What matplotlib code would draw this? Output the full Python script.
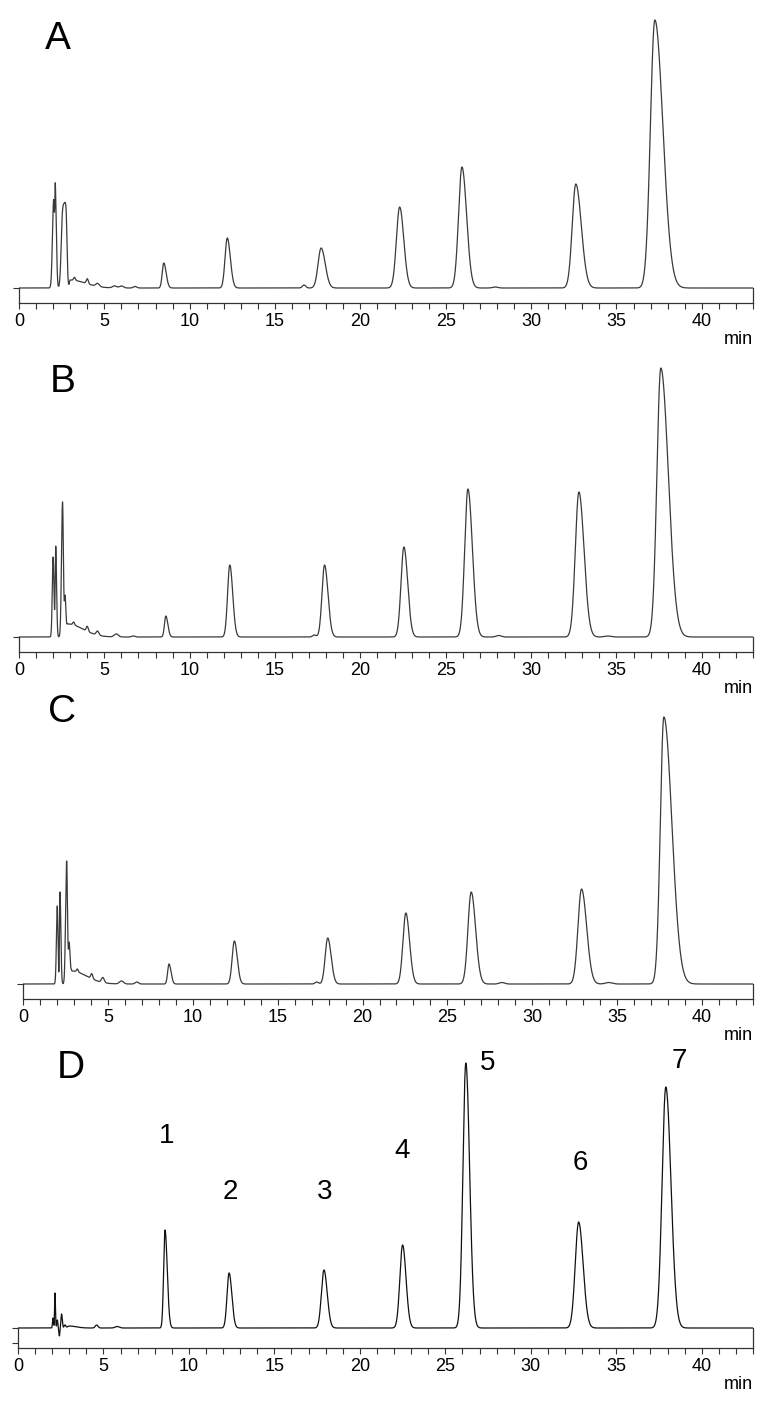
import numpy as np
import matplotlib.pyplot as plt
from matplotlib.ticker import MultipleLocator

plt.rcParams["font.family"] = ["Liberation Sans", "DejaVu Sans"]

# peak tables: retention time (min), height, left / right width (min)
a_time = [2.03, 2.13, 2.55, 2.75, 3.0, 3.25, 4.0, 4.6, 5.6, 6.0, 6.8, 8.48, 12.2, 16.7, 17.7, 22.3, 25.95, 27.9, 32.62, 37.25]
a_height = [88, 92, 68, 72, 8, 3, 5, 3, 2, 2, 1.5, 25, 50, 3, 40, 81, 121, 1, 104, 268]
a_left = [0.07, 0.03, 0.08, 0.1, 0.05, 0.05, 0.06, 0.1, 0.12, 0.12, 0.1, 0.09, 0.13, 0.1, 0.18, 0.19, 0.2, 0.15, 0.21, 0.26]
a_right = [0.05, 0.06, 0.1, 0.06, 0.9, 0.05, 0.06, 0.1, 0.12, 0.12, 0.1, 0.14, 0.18, 0.1, 0.24, 0.24, 0.27, 0.15, 0.32, 0.47]

b_time = [2.0, 2.15, 2.55, 2.7, 2.85, 3.2, 4.0, 4.6, 5.7, 6.7, 8.6, 12.35, 17.3, 17.9, 22.55, 26.3, 28.1, 32.8, 34.5, 37.6]
b_height = [80, 90, 135, 40, 13, 3, 5, 4, 3, 1, 21, 72, 2, 72, 90, 148, 1.5, 145, 1, 269]
b_left = [0.05, 0.03, 0.06, 0.04, 0.05, 0.05, 0.06, 0.08, 0.12, 0.1, 0.08, 0.13, 0.1, 0.15, 0.17, 0.19, 0.15, 0.21, 0.2, 0.23]
b_right = [0.05, 0.05, 0.05, 0.05, 0.9, 0.05, 0.06, 0.08, 0.12, 0.1, 0.12, 0.17, 0.1, 0.2, 0.22, 0.26, 0.15, 0.3, 0.2, 0.44]

c_time = [2.02, 2.18, 2.57, 2.72, 2.85, 3.2, 4.05, 4.7, 5.8, 6.7, 8.6, 12.45, 17.3, 17.95, 22.55, 26.4, 28.2, 32.9, 34.5, 37.75]
c_height = [78, 92, 123, 40, 13, 3, 5, 5, 3, 2, 20, 43, 2, 46, 71, 92, 1.5, 95, 1.5, 267]
c_left = [0.05, 0.03, 0.06, 0.04, 0.05, 0.05, 0.06, 0.08, 0.12, 0.1, 0.08, 0.13, 0.1, 0.15, 0.17, 0.19, 0.15, 0.21, 0.2, 0.21]
c_right = [0.04, 0.05, 0.05, 0.05, 0.9, 0.05, 0.06, 0.08, 0.12, 0.1, 0.12, 0.17, 0.1, 0.2, 0.22, 0.26, 0.15, 0.3, 0.2, 0.47]

d_time = [2.05, 2.16, 2.3, 2.42, 2.55, 2.75, 3.0, 4.6, 5.8, 8.6, 12.35, 17.9, 22.5, 26.2, 32.8, 37.9]
d_height = [10, 35, 8, -8, 14, 3, 2, 3, 1.5, 98, 55, 58, 83, 265, 106, 241]
d_left = [0.03, 0.02, 0.03, 0.03, 0.04, 0.05, 0.1, 0.08, 0.12, 0.08, 0.12, 0.15, 0.16, 0.17, 0.2, 0.22]
d_right = [0.03, 0.03, 0.03, 0.03, 0.04, 0.05, 0.4, 0.08, 0.12, 0.13, 0.16, 0.19, 0.2, 0.22, 0.26, 0.3]

peak_labels = ["1", "2", "3", "4", "5", "6", "7"]
x_ticks = [0, 5, 10, 15, 20, 25, 30, 35, 40]


def trace(t, times, heights, left, right):
    y = np.zeros_like(t)
    for t0, h, sl, sr in zip(times, heights, left, right):
        s = np.where(t < t0, sl, sr)
        y += h * np.exp(-0.5 * ((t - t0) / s) ** 2)
    return y


t = np.linspace(0, 43, 17201)

fig = plt.figure(figsize=(7.68, 14.08), dpi=100)
W, H = 768.0, 1408.0

panels = [
    ("A", a_time, a_height, a_left, a_right, 303, 15, 19, "#3a3a3a", (58, 39)),
    ("B", b_time, b_height, b_left, b_right, 652, 15, 19, "#3a3a3a", (63, 382)),
    ("C", c_time, c_height, c_left, c_right, 999, 15, 23, "#3a3a3a", (62, 712)),
    ("D", d_time, d_height, d_left, d_right, 1348, 20, 18, "#111111", (71, 1068)),
]

for name, tm, hg, sl, sr, y_axis, off, x0, col, lab in panels:
    ax = fig.add_axes([x0 / W, 1 - y_axis / H, (753 - x0) / W, 300 / H])
    ax.plot(t, trace(t, tm, hg, sl, sr), color=col, lw=0.9)
    ax.set_xlim(0, 43)
    ax.set_ylim(-off, 300 - off)
    ax.patch.set_visible(False)
    ax.spines["top"].set_visible(False)
    for s in ["left", "right", "bottom"]:
        ax.spines[s].set_color("#333333")
        ax.spines[s].set_linewidth(0.9)
    ax.spines["left"].set_bounds(-off, 0)
    ax.spines["right"].set_bounds(-off, 0)
    ax.set_xticks(x_ticks)
    ax.xaxis.set_minor_locator(MultipleLocator(1))
    ax.tick_params(axis="x", which="both", direction="out", length=4.5, width=0.8,
                   color="#333333", labelsize=13, pad=2.5)
    if name == "D":
        ax.set_yticks([-15, 0])
    else:
        ax.set_yticks([0])
    ax.set_yticklabels([])
    ax.tick_params(axis="y", direction="out", length=4.5, width=0.8, color="#333333")
    ax.tick_params(axis="y", which="minor", left=False)
    ax.annotate("min", xy=(1, 0), xycoords="axes fraction", xytext=(0, -26),
                textcoords="offset points", ha="right", va="center", fontsize=13)
    fig.text(lab[0] / W, 1 - lab[1] / H, name, fontsize=28, ha="center", va="center")

    if name == "D":
        main = tm[-7:]
        mh = hg[-7:]
        offsets = [(0.1, 94), (0.05, 81), (0.05, 78), (0.0, 94), (1.3, 0), (0.1, 59), (0.8, 26)]
        for lbl, pt, ph, (dx, dy) in zip(peak_labels, main, mh, offsets):
            ax.text(pt + dx, ph + dy, lbl, fontsize=20, ha="center", va="center")

fig.savefig("out.png", dpi=100)
